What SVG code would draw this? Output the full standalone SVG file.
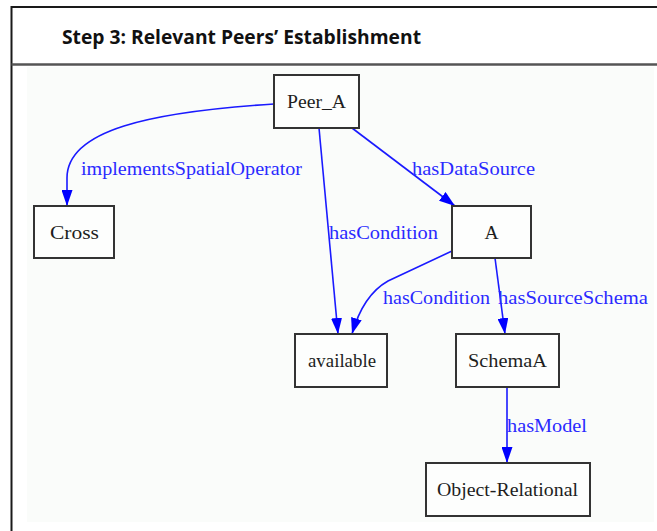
<svg xmlns="http://www.w3.org/2000/svg" width="657" height="531" viewBox="0 0 657 531">
  <style>
    .frame { stroke: #1a1a1a; stroke-width: 2; fill: none; }
    .divider { stroke: #555; stroke-width: 2.5; fill: none; }
    .title { font-family: "Open Sans", "Liberation Sans", Arial, sans-serif; font-weight: bold; font-size: 19.5px; fill: #111; }
    .box { fill: #fdfefd; stroke: #333; stroke-width: 2; }
    .ntext { font-family: "Liberation Serif", "Times New Roman", serif; font-size: 19.5px; fill: #1e1e1e; text-anchor: middle; }
    .edge { fill: none; stroke: #1a1aff; stroke-width: 1.6; }
    .elabel { font-family: "Liberation Serif", "Times New Roman", serif; font-size: 19.5px; fill: #2a2aff; }
  </style>
  <defs>
    <marker id="arrow" markerUnits="userSpaceOnUse" markerWidth="16" markerHeight="11" refX="16" refY="5.5" orient="auto">
      <path d="M0,0 L16,5.5 L0,11 z" fill="#0000ff"/>
    </marker>
  </defs>

  <!-- page -->
  <rect x="0" y="0" width="657" height="531" fill="#ffffff"/>
  <rect x="27" y="67" width="627" height="455" fill="#fafcfa"/>
  <path class="frame" d="M11.5,531 L11.5,7 L657,7"/>
  <path class="divider" d="M11.5,64.5 L657,64.5"/>
  <text class="title" x="62" y="43.5" textLength="359" lengthAdjust="spacingAndGlyphs">Step 3: Relevant Peers’ Establishment</text>

  <!-- connectors -->
  <g id="edges">
    <path class="edge" d="M274,104 C150,112 67,130 67,178 L67,206" marker-end="url(#arrow)"/>
    <path class="edge" d="M319,128 L338,334" marker-end="url(#arrow)"/>
    <path class="edge" d="M352,128 L455,206" marker-end="url(#arrow)"/>
    <path class="edge" d="M452,251 L388,281 C372,290 360,306 352,334" marker-end="url(#arrow)"/>
    <path class="edge" d="M495,258 L505,334" marker-end="url(#arrow)"/>
    <path class="edge" d="M507,387 L507,463" marker-end="url(#arrow)"/>
    <text class="elabel" x="81" y="174.5" textLength="221" lengthAdjust="spacingAndGlyphs">implementsSpatialOperator</text>
    <text class="elabel" x="412" y="174.5" textLength="123" lengthAdjust="spacingAndGlyphs">hasDataSource</text>
    <text class="elabel" x="329" y="238.5" textLength="109" lengthAdjust="spacingAndGlyphs">hasCondition</text>
    <text class="elabel" x="383" y="303.5" textLength="107" lengthAdjust="spacingAndGlyphs">hasCondition</text>
    <text class="elabel" x="498" y="303.5" textLength="150" lengthAdjust="spacingAndGlyphs">hasSourceSchema</text>
    <text class="elabel" x="507" y="431.5" textLength="80" lengthAdjust="spacingAndGlyphs">hasModel</text>
  </g>

  <!-- nodes -->
  <g id="peer_a">
    <rect class="box" x="274" y="75" width="85" height="53"/>
    <text class="ntext" x="316.5" y="108" textLength="59" lengthAdjust="spacingAndGlyphs">Peer_A</text>
  </g>
  <g id="cross">
    <rect class="box" x="34" y="206" width="80" height="52"/>
    <text class="ntext" x="74.5" y="238.5" textLength="49" lengthAdjust="spacingAndGlyphs">Cross</text>
  </g>
  <g id="a">
    <rect class="box" x="452" y="206" width="79" height="52"/>
    <text class="ntext" x="491.5" y="238.5">A</text>
  </g>
  <g id="available">
    <rect class="box" x="295" y="334" width="92" height="53"/>
    <text class="ntext" x="342" y="367" textLength="68" lengthAdjust="spacingAndGlyphs">available</text>
  </g>
  <g id="schema_a">
    <rect class="box" x="456" y="334" width="103" height="53"/>
    <text class="ntext" x="507.5" y="367" textLength="79" lengthAdjust="spacingAndGlyphs">SchemaA</text>
  </g>
  <g id="object_relational">
    <rect class="box" x="426" y="463" width="164" height="53"/>
    <text class="ntext" x="507.5" y="496" textLength="141" lengthAdjust="spacingAndGlyphs">Object-Relational</text>
  </g>
</svg>
